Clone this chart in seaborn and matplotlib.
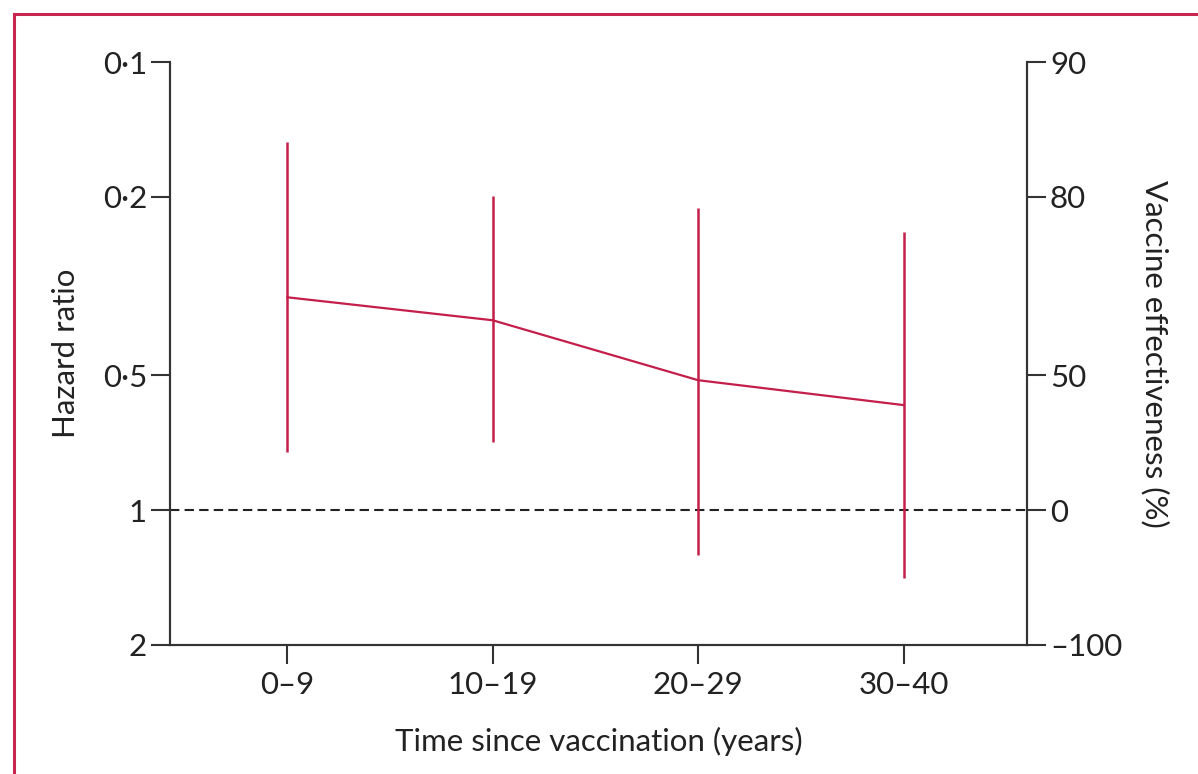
import matplotlib
matplotlib.use("Agg")
import matplotlib.pyplot as plt
import seaborn as sns
import pandas as pd
from matplotlib.patches import Rectangle

# ---- data ----
categories = ["0–9", "10–19", "20–29", "30–40"]
hazard_ratio = [0.335, 0.377, 0.513, 0.583]
ci_low = [0.151, 0.199, 0.212, 0.240]
ci_high = [0.742, 0.705, 1.26, 1.42]
hr_ticks = [0.1, 0.2, 0.5, 1, 2]
hr_tick_labels = ["0·1", "0·2", "0·5", "1", "2"]
ve_tick_labels = ["90", "80", "50", "0", "–100"]

sns.set_theme(style="ticks")
plt.rcParams["font.family"] = ["Lato", "DejaVu Sans"]

red = "#C41E4A"
spine_col = "#333333"
fs = 22.5

fig = plt.figure(figsize=(11.98, 7.74), dpi=100)
ax = fig.add_axes([170 / 1198, 1 - 645 / 774, (1027 - 170) / 1198, (645 - 62) / 774])

df = pd.DataFrame({"x": range(len(categories)), "hr": hazard_ratio,
                   "lo": ci_low, "hi": ci_high})

ax.axhline(1, color="#222222", lw=1.5, ls=(0, (4.5, 2.5)), zorder=1)
ax.vlines(df["x"], df["lo"], df["hi"], color=red, lw=1.8, zorder=2)
sns.lineplot(data=df, x="x", y="hr", ax=ax, color=red, lw=1.6, zorder=3)

ax.set_yscale("log")
ax.set_ylim(2, 0.1)
ax.set_xlim(-0.57, 3.6)
ax.set_yticks(hr_ticks)
ax.set_yticklabels(hr_tick_labels)
ax.minorticks_off()
ax.set_xticks(range(len(categories)))
ax.set_xticklabels(categories)

ax.set_xlabel("Time since vaccination (years)", fontsize=fs, color="#222222", labelpad=20)
ax.set_ylabel("Hazard ratio", fontsize=fs, color="#222222", labelpad=16)

ax2 = ax.twinx()
ax2.set_yscale("log")
ax2.set_ylim(2, 0.1)
ax2.set_yticks(hr_ticks)
ax2.set_yticklabels(ve_tick_labels)
ax2.minorticks_off()
ax2.set_ylabel("Vaccine effectiveness (%)", fontsize=fs, color="#222222",
               rotation=-90, labelpad=34)

for a in (ax, ax2):
    for s in a.spines.values():
        s.set_color(spine_col)
        s.set_linewidth(1.5)
    a.spines["top"].set_visible(False)
    a.tick_params(axis="both", length=13.5, width=1.5, color=spine_col,
                  labelsize=fs, labelcolor="#222222", pad=3)
ax.tick_params(axis="x", pad=5)

fig.patches.append(Rectangle((14 / 1198, -0.1), 1.2, 1 - 14 / 774 + 0.1,
                             transform=fig.transFigure, fill=False,
                             edgecolor="#C8254F", lw=2.2))

fig.savefig("out.png", dpi=100)
